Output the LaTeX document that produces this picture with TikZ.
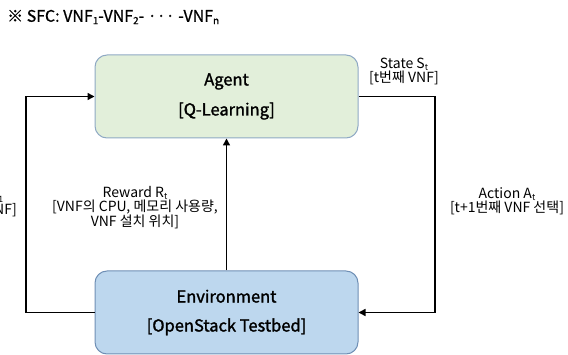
\documentclass[tikz,border=0pt]{standalone}
\usepackage{fontspec}
\setmainfont{Noto Sans CJK KR}
\newfontfamily\midfont{Noto Sans CJK KR}[FakeBold=1.6]
\newfontfamily\titlefont{Noto Sans CJK KR}[FakeBold=0.8]
\usetikzlibrary{arrows.meta}
\definecolor{agentfill}{HTML}{E2EFDA}
\definecolor{agentline}{HTML}{8FA9C4}
\definecolor{envfill}{HTML}{BDD7EE}
\definecolor{envline}{HTML}{6F8FB5}
\newcommand{\idx}[1]{\raisebox{-0.15em}{\scalebox{0.62}{#1}}}
\tikzset{
  box/.style={draw, rounded corners=12pt, line width=1pt, minimum width=263pt,
    minimum height=83pt, align=center, font=\fontsize{16.5}{20}\midfont},
  flow/.style={line width=1.5pt, -{Triangle[length=7pt,width=7pt]}},
  lbl/.style={align=center, inner sep=0pt, font=\fontsize{14}{14}\selectfont}
}
\begin{document}
\begin{tikzpicture}[x=1pt,y=-1pt]
\useasboundingbox (0,0) rectangle (568,355);
\node[anchor=west, inner sep=0pt, font=\fontsize{16}{18}\titlefont] (sfc) at (7,17)
  {※ SFC: VNF\idx{1}-VNF\idx{2}- ···\ -VNF\idx{n}};
% agent and environment
\node[box, fill=agentfill, draw=agentline] (agent) at (226.5,96.5) {Agent\\[10pt][Q-Learning]};
\node[box, fill=envfill, draw=envline] (env) at (226.5,312.5) {Environment\\[9pt][OpenStack Testbed]};
\coordinate (leftrail) at (26,200);
\coordinate (rightrail) at (435,200);
\draw[flow] (env.west) -| (leftrail) |- (agent.west);
\draw[flow] (agent.east) -| (rightrail) |- (env.east);
\draw[flow] (env.north) -- (agent.south);
% labels
\node[lbl] (state) at (404,71) {State S\idx{t}\\{[}t번째 VNF]};
\node[lbl] (reward) at (135,208) {Reward R\idx{t}\\{[}VNF의 CPU, 메모리 사용량,\\VNF 설치 위치]};
\node[lbl] (action) at (507,201) {Action A\idx{t}\\{[}t+1번째 VNF 선택]};
\node[lbl, anchor=east] (nextstate) at (17,203) {State S\idx{t+1}\\{[}t+1번째 VNF]};
\end{tikzpicture}
\end{document}
